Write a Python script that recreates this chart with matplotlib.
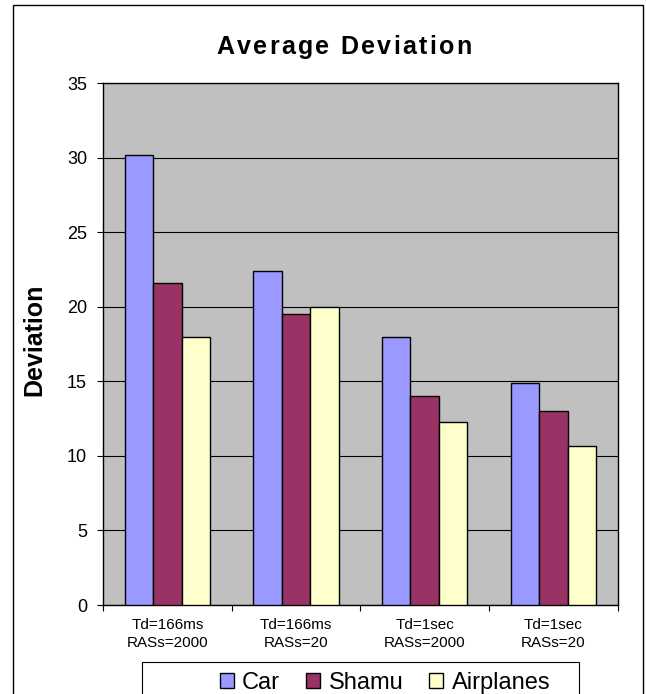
import numpy as np
import matplotlib
matplotlib.use("Agg")
import matplotlib.pyplot as plt
from matplotlib.patches import Rectangle
from matplotlib.font_manager import FontProperties

plt.rcParams['font.family'] = ['Liberation Sans', 'DejaVu Sans']

# average deviation per test setting
settings = ["Td=166ms\nRASs=2000", "Td=166ms\nRASs=20", "Td=1sec\nRASs=2000", "Td=1sec\nRASs=20"]
car = [30.2, 22.4, 18.0, 14.9]
shamu = [21.6, 19.5, 14.0, 13.0]
airplanes = [18.0, 20.0, 12.3, 10.7]

series = [("Car", car, "#9999FF"),
          ("Shamu", shamu, "#993366"),
          ("Airplanes", airplanes, "#FFFFCC")]

W, H = 646, 694
fig = plt.figure(figsize=(W / 100, H / 100), dpi=100)
ax = fig.add_axes([0.1594, 0.1282, 0.7968, 0.7518])
ax.set_facecolor("#C0C0C0")

x = np.arange(len(settings))
w = 0.2215
for i, (name, vals, col) in enumerate(series):
    ax.bar(x + (i - 1) * w, vals, w, color=col, edgecolor="black",
           linewidth=1.0, label=name, zorder=3)

ax.set_xlim(-0.5, len(settings) - 0.5)
ax.set_ylim(0, 35)
ax.set_yticks(np.arange(0, 36, 5))
ax.yaxis.grid(True, color="black", linewidth=0.8, zorder=0)
ax.set_axisbelow(True)

ax.set_xticks(x)
ax.set_xticklabels(settings, fontsize=11, linespacing=1.4)
ax.set_xticks(np.arange(-0.5, len(settings), 1.0), minor=True)
ax.tick_params(axis="x", which="major", length=0, pad=9)
ax.tick_params(axis="x", which="minor", length=4, width=0.8, direction="out")
ax.tick_params(axis="y", length=4.5, width=0.8, direction="out", pad=7, labelsize=13)

for s in ax.spines.values():
    s.set_color("black")
    s.set_linewidth(1.0)


def spaced_text(s, xc, yc, extra, **kw):
    # draw a string one glyph at a time with extra letter spacing (pixels)
    fp = FontProperties(family="Liberation Sans", size=kw["fontsize"], weight=kw["fontweight"])
    r = fig.canvas.get_renderer()
    widths = []
    for ch in s:
        if ch == " ":
            wd = r.get_text_width_height_descent("a a", fp, ismath=False)[0] - \
                 r.get_text_width_height_descent("aa", fp, ismath=False)[0]
        else:
            wd = r.get_text_width_height_descent(ch, fp, ismath=False)[0]
        widths.append(wd)
    total = sum(widths) + extra * (len(s) - 1)
    pos = xc - total / 2
    for ch, wd in zip(s, widths):
        fig.text(pos / W, 1 - yc / H, ch, ha="left", va="center", fontproperties=fp)
        pos += wd + extra


spaced_text("Average Deviation", 344, 47, 2.3, fontsize=18, fontweight="bold")
fig.text(34 / W, 1 - 340 / H, "Deviation", ha="center", va="center",
         rotation=90, fontsize=18, fontweight="bold")

# outer chart border and legend box
fig.add_artist(Rectangle((12.7 / W, -0.02), (643.3 - 12.7) / W, 0.9928 + 0.02,
                         transform=fig.transFigure, fill=False,
                         edgecolor="black", linewidth=1.0, clip_on=False))
fig.add_artist(Rectangle((142 / W, -0.02), (579 - 142) / W, 1 - 662 / H + 0.02,
                         transform=fig.transFigure, fill=False,
                         edgecolor="black", linewidth=0.8, clip_on=False))

handles, labels = ax.get_legend_handles_labels()
fig.legend(handles, labels, loc="center", bbox_to_anchor=(385 / W, 1 - 683 / H),
           ncol=3, frameon=False, fontsize=17, handlelength=0.6, handleheight=0.6,
           handletextpad=0.35, columnspacing=1.1, borderpad=0)

fig.savefig("out.png", dpi=100)
